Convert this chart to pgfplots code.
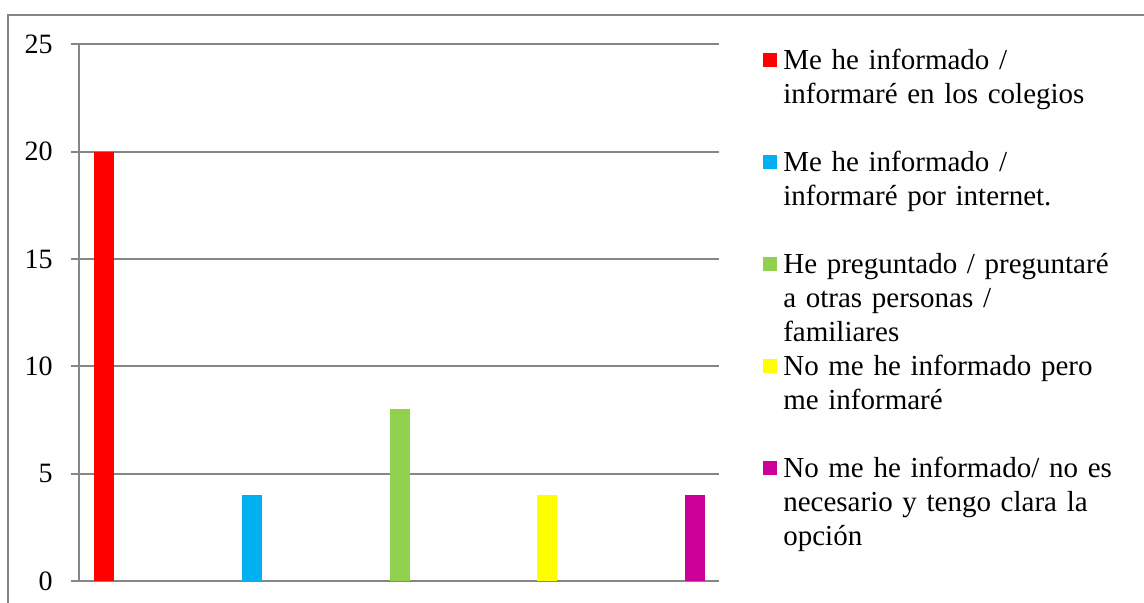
\documentclass[border=0pt]{standalone}
\usepackage{fontspec}
\setmainfont{Liberation Serif}
\usepackage{pgfplots}
\pgfplotsset{compat=1.18}
\definecolor{gridgray}{RGB}{134,134,134}
\definecolor{cRed}{RGB}{255,0,0}
\definecolor{cBlue}{RGB}{0,176,240}
\definecolor{cGreen}{RGB}{146,208,80}
\definecolor{cYellow}{RGB}{255,255,0}
\definecolor{cMag}{RGB}{204,0,153}
\pgfplotsset{sqleg/.style={legend image code/.code={\fill[##1] (0pt,1.25pt) rectangle (7pt,8.25pt);}}}
\begin{document}
\begin{tikzpicture}
\path[use as bounding box] (0,0) rectangle (572pt,-301.5pt);
\draw[gridgray, line width=0.8pt] (4pt,-320pt) -- (4pt,-7.5pt) -- (600pt,-7.5pt);
\begin{axis}[
  at={(39.65pt,-290.5pt)}, anchor=south west,
  scale only axis, width=319.85pt, height=268.35pt,
  xmin=-0.1672, xmax=4.1624, ymin=0, ymax=25,
  enlargelimits=false,
  axis lines*=left,
  axis line style={gridgray, line width=0.9pt},
  xtick=\empty,
  ytick={0,5,10,15,20,25},
  ymajorgrids,
  grid style={gridgray, line width=0.9pt},
  y tick style={gridgray, line width=0.9pt},
  tick align=outside, major tick length=4pt,
  yticklabel style={anchor=east, inner sep=0pt, xshift=-9.15pt, font=\fontsize{14pt}{16pt}\selectfont},
  /pgf/number format/assume math mode=true,
  ybar, bar width=10pt,
  legend style={draw=none, fill=none, inner sep=0pt, at={(1.0677,0.99069)}, anchor=north west,
    column sep=3.3pt, row sep=0pt, font=\fontsize{14.5pt}{17pt}\selectfont,
    cells={anchor=base west},
    nodes={inner sep=0pt, text width=200pt, text height=10pt, text depth=41pt}},
]
\addplot[fill=cRed, draw=none, bar shift=0pt, sqleg] coordinates {(0,20)};
\addlegendentry{Me he informado /\\informaré en los colegios}
\addplot[fill=cBlue, draw=none, bar shift=0pt, sqleg] coordinates {(1,4)};
\addlegendentry{Me he informado /\\informaré por internet.}
\addplot[fill=cGreen, draw=none, bar shift=0pt, sqleg] coordinates {(2,8)};
\addlegendentry{He preguntado / preguntaré\\a otras personas /\\familiares}
\addplot[fill=cYellow, draw=none, bar shift=0pt, sqleg] coordinates {(3,4)};
\addlegendentry{No me he informado pero\\me informaré}
\addplot[fill=cMag, draw=none, bar shift=0pt, sqleg] coordinates {(4,4)};
\addlegendentry{No me he informado/ no es\\necesario y tengo clara la\\opción}
\end{axis}
\end{tikzpicture}
\end{document}
